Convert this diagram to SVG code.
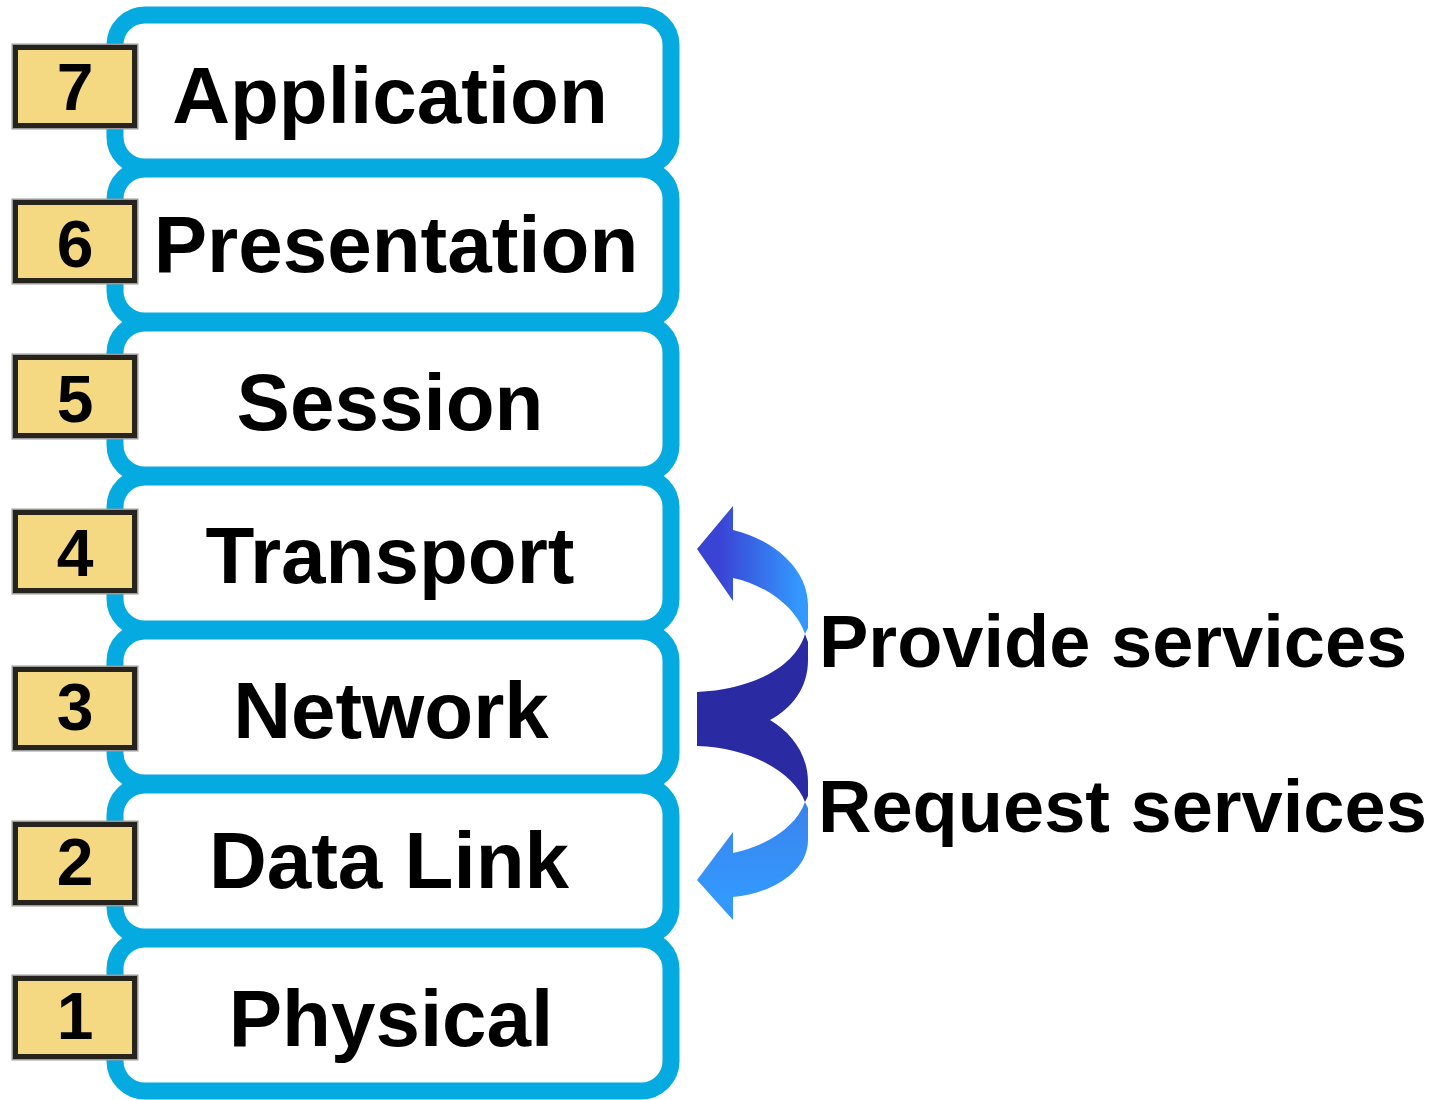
<svg xmlns="http://www.w3.org/2000/svg" width="1433" height="1100" viewBox="0 0 1433 1100">
<style>
.layer{fill:#ffffff;stroke:#05AAE0;stroke-width:17}
.numbox{fill:#F4D982;stroke:#26241c;stroke-width:5}
.numshadow{fill:none;stroke:#9a9a9a;stroke-width:8}
.num{font-family:"Liberation Sans",Arial,sans-serif;font-weight:bold;font-size:66px;fill:#000;text-anchor:middle}
.lbl{font-family:"Liberation Sans",Arial,sans-serif;font-weight:bold;font-size:80px;fill:#000;text-anchor:middle}
.side{font-family:"Liberation Sans",Arial,sans-serif;font-weight:bold;font-size:74px;fill:#000}
</style>
<defs>
<linearGradient id="gUp" gradientUnits="userSpaceOnUse" x1="720" y1="0" x2="800" y2="0">
<stop offset="0" stop-color="#3A44D4"/>
<stop offset="1" stop-color="#3399FF"/>
</linearGradient>
<linearGradient id="gDown" gradientUnits="userSpaceOnUse" x1="0" y1="805" x2="0" y2="900">
<stop offset="0" stop-color="#3A84EC"/>
<stop offset="1" stop-color="#3399FF"/>
</linearGradient>
</defs>
<rect width="1433" height="1100" fill="#ffffff"/>

<g id="layer7">
<rect class="layer" x="115" y="15" width="556" height="152" rx="30"/>
<rect class="numshadow" x="15.5" y="47.5" width="119" height="78"/>
<rect class="numbox" x="15.5" y="47.5" width="119" height="78"/>
<text class="num" x="75" y="110">7</text>
<text class="lbl" x="390" y="123">Application</text>
</g>
<g id="layer6">
<rect class="layer" x="115" y="169" width="556" height="152" rx="30"/>
<rect class="numshadow" x="15.5" y="202.5" width="119" height="78"/>
<rect class="numbox" x="15.5" y="202.5" width="119" height="78"/>
<text class="num" x="75" y="267">6</text>
<text class="lbl" x="396" y="272">Presentation</text>
</g>
<g id="layer5">
<rect class="layer" x="115" y="323" width="556" height="152" rx="30"/>
<rect class="numshadow" x="15.5" y="357.5" width="119" height="78"/>
<rect class="numbox" x="15.5" y="357.5" width="119" height="78"/>
<text class="num" x="75" y="422">5</text>
<text class="lbl" x="390" y="430">Session</text>
</g>
<g id="layer4">
<rect class="layer" x="115" y="477" width="556" height="152" rx="30"/>
<rect class="numshadow" x="15.5" y="512.5" width="119" height="78"/>
<rect class="numbox" x="15.5" y="512.5" width="119" height="78"/>
<text class="num" x="75" y="576">4</text>
<text class="lbl" x="390" y="583">Transport</text>
</g>
<g id="layer3">
<rect class="layer" x="115" y="631" width="556" height="152" rx="30"/>
<rect class="numshadow" x="15.5" y="669.5" width="119" height="78"/>
<rect class="numbox" x="15.5" y="669.5" width="119" height="78"/>
<text class="num" x="75" y="730">3</text>
<text class="lbl" x="391" y="738">Network</text>
</g>
<g id="layer2">
<rect class="layer" x="115" y="785" width="556" height="152" rx="30"/>
<rect class="numshadow" x="15.5" y="824.5" width="119" height="78"/>
<rect class="numbox" x="15.5" y="824.5" width="119" height="78"/>
<text class="num" x="75" y="885">2</text>
<text class="lbl" x="389" y="888">Data Link</text>
</g>
<g id="layer1">
<rect class="layer" x="115" y="939" width="556" height="152" rx="30"/>
<rect class="numshadow" x="15.5" y="978.5" width="119" height="78"/>
<rect class="numbox" x="15.5" y="978.5" width="119" height="78"/>
<text class="num" x="75" y="1039">1</text>
<text class="lbl" x="391" y="1046">Physical</text>
</g>

<g id="connectors">
<path d="M 697,692 C 750,690 795,668 805,634 L 808,642 L 808,660 C 808,688 792,708 770,720 C 792,733 808,755 808,782 L 808,796 L 805,802 C 795,775 755,748 697,746 Z" fill="#2A2AA2"/>
<path d="M 697,549 L 733,506 L 733,530 C 775,540 808,570 808,605 L 808,628 L 805,634 C 797,610 770,586 733,578 L 733,601 Z" fill="url(#gUp)"/>
<path d="M 697,880 L 733,832 L 733,853 C 770,845 797,825 805,802 L 808,808 L 808,840 C 808,870 775,893 733,897 L 733,920 Z" fill="url(#gDown)"/>
</g>

<g id="labels">
<text class="side" x="819" y="667">Provide services</text>
<text class="side" x="818" y="832">Request services</text>
</g>
</svg>
